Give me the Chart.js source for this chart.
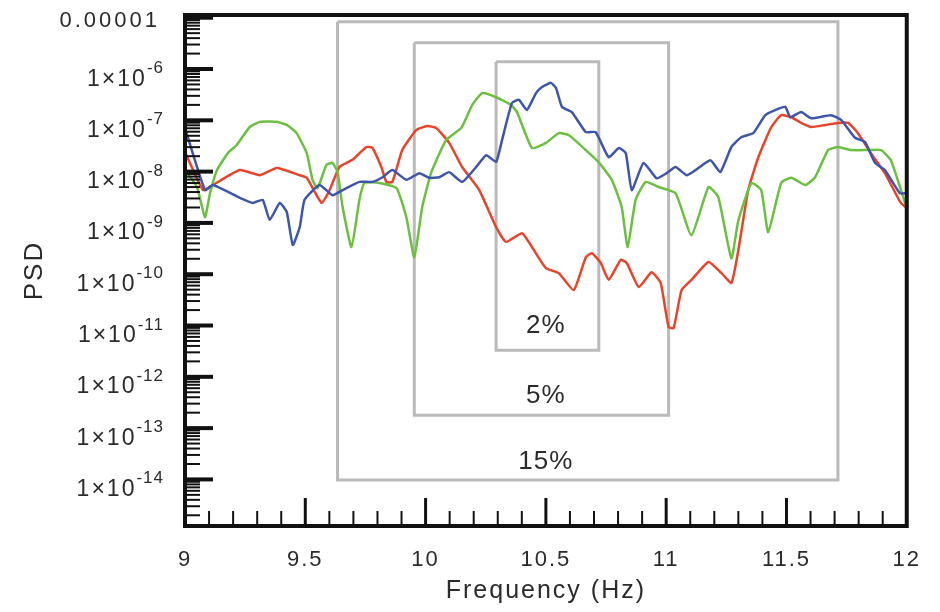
<!DOCTYPE html>
<html>
<head>
<meta charset="utf-8">
<script src="https://cdn.jsdelivr.net/npm/chart.js@4.4.0/dist/chart.umd.min.js"></script>
<style>
html, body { margin: 0; padding: 0; background: #fff; }
#wrap { width: 940px; height: 612px; }
</style>
</head>
<body>
<div id="wrap"><canvas id="graficoPSD" width="940" height="612"></canvas></div>
<script>
// > Values: frequency (Hz) and log10(PSD) for each curve

var blueFreq = [9.000, 9.083, 9.116, 9.228, 9.282, 9.323, 9.352, 9.394, 9.423, 9.448, 9.477, 9.497, 9.559, 9.613, 9.655, 9.725, 9.779, 9.821, 9.862, 9.920, 9.974, 10.015, 10.057, 10.098, 10.152, 10.210, 10.252, 10.293, 10.318, 10.359, 10.388, 10.421, 10.459, 10.484, 10.521, 10.542, 10.567, 10.608, 10.666, 10.707, 10.761, 10.803, 10.832, 10.857, 10.906, 10.960, 11.002, 11.039, 11.085, 11.122, 11.184, 11.225, 11.271, 11.312, 11.362, 11.412, 11.453, 11.495, 11.516, 11.561, 11.603, 11.685, 11.727, 11.785, 11.826, 11.868, 11.909, 11.971, 12.000];
var bluePsd = [-7.15, -8.36, -8.26, -8.51, -8.61, -8.55, -8.94, -8.61, -8.79, -9.43, -9.08, -8.55, -8.26, -8.46, -8.36, -8.20, -8.20, -8.11, -7.97, -8.16, -8.03, -8.12, -8.11, -8.01, -8.20, -7.91, -7.68, -7.81, -7.38, -6.66, -6.60, -6.80, -6.47, -6.35, -6.27, -6.37, -6.74, -6.84, -7.23, -7.23, -7.72, -7.54, -7.64, -8.36, -7.83, -8.13, -8.03, -7.91, -8.07, -7.97, -7.78, -8.01, -7.52, -7.33, -7.25, -6.90, -6.80, -6.74, -6.94, -6.84, -6.96, -6.90, -6.99, -7.34, -7.42, -7.83, -7.97, -8.42, -8.42];

var redFreq = [9.000, 9.075, 9.116, 9.228, 9.311, 9.381, 9.477, 9.506, 9.568, 9.601, 9.642, 9.696, 9.754, 9.779, 9.816, 9.837, 9.862, 9.903, 9.961, 10.007, 10.044, 10.098, 10.152, 10.223, 10.293, 10.334, 10.401, 10.442, 10.500, 10.554, 10.616, 10.666, 10.691, 10.728, 10.761, 10.811, 10.836, 10.886, 10.939, 10.977, 11.010, 11.031, 11.064, 11.105, 11.176, 11.230, 11.271, 11.300, 11.341, 11.383, 11.437, 11.478, 11.520, 11.561, 11.603, 11.661, 11.714, 11.756, 11.797, 11.851, 11.909, 11.975, 12.000];
var redPsd = [-7.62, -8.36, -8.26, -7.97, -8.07, -7.93, -8.07, -8.12, -8.61, -8.36, -7.91, -7.77, -7.52, -7.54, -7.91, -8.20, -8.20, -7.58, -7.19, -7.11, -7.15, -7.44, -7.91, -8.36, -9.08, -9.37, -9.20, -9.47, -9.88, -9.98, -10.31, -9.67, -9.59, -9.78, -10.11, -9.72, -9.78, -10.25, -9.96, -10.17, -11.03, -11.05, -10.31, -10.11, -9.76, -9.98, -10.17, -9.53, -8.36, -7.72, -7.13, -6.90, -6.94, -7.05, -7.13, -7.09, -7.05, -7.05, -7.25, -7.64, -8.03, -8.61, -8.71];

var greenFreq = [9.000, 9.050, 9.083, 9.104, 9.133, 9.178, 9.215, 9.269, 9.311, 9.381, 9.423, 9.464, 9.506, 9.530, 9.551, 9.588, 9.613, 9.634, 9.655, 9.692, 9.725, 9.746, 9.808, 9.879, 9.920, 9.953, 9.986, 10.024, 10.086, 10.148, 10.194, 10.235, 10.293, 10.355, 10.380, 10.442, 10.500, 10.554, 10.596, 10.666, 10.720, 10.774, 10.815, 10.840, 10.873, 10.915, 10.969, 11.039, 11.105, 11.176, 11.217, 11.271, 11.300, 11.354, 11.395, 11.424, 11.478, 11.520, 11.578, 11.619, 11.673, 11.714, 11.768, 11.839, 11.893, 11.934, 12.000];
var greenPsd = [-7.97, -8.30, -8.89, -8.42, -7.97, -7.64, -7.48, -7.13, -7.03, -7.03, -7.09, -7.25, -7.64, -8.16, -8.32, -7.87, -7.83, -8.01, -8.69, -9.47, -8.55, -8.22, -8.22, -8.32, -8.89, -9.67, -8.69, -8.01, -7.38, -7.15, -6.70, -6.47, -6.55, -6.70, -6.84, -7.54, -7.44, -7.25, -7.29, -7.58, -7.82, -8.16, -8.69, -9.47, -8.55, -8.20, -8.30, -8.42, -9.24, -8.30, -8.50, -9.69, -8.95, -8.22, -8.36, -9.18, -8.22, -8.12, -8.26, -8.11, -7.58, -7.52, -7.58, -7.58, -7.58, -7.78, -8.71];

// * Grey windows (15%, 5%, 2%), bounds in Hz and log10(PSD)
var boxNames = ["15%", "5%", "2%"];
var boxFreqStart = [9.634, 9.953, 10.293];
var boxFreqEnd = [11.714, 11.010, 10.720];
var boxPsdTop = [-5.08, -5.49, -5.86];
var boxPsdBottom = [-14.01, -12.75, -11.48];
var boxLabelFreq = [10.50, 10.50, 10.50];
var boxLabelPsd = [-13.66, -12.37, -11.01];

// : axis ticks
var xTicks = [9, 9.5, 10, 10.5, 11, 11.5, 12];
var yTickExps = [-5, -6, -7, -8, -9, -10, -11, -12, -13, -14];

var textColor = "#2b2b2b";

function toPoints(freq, psd) {
    var out = [];
    for (var i = 0; i < freq.length; i++) {
        out.push({ x: freq[i], y: Math.pow(10, psd[i]) });
    }
    return out;
}

var datasets = [
    { data: toPoints(redFreq, redPsd), borderColor: "#e8442c", borderWidth: 2.5, pointRadius: 0, tension: 0.15, order: 3 },
    { data: toPoints(greenFreq, greenPsd), borderColor: "#6cbf40", borderWidth: 2.5, pointRadius: 0, tension: 0.15, order: 2 },
    { data: toPoints(blueFreq, bluePsd), borderColor: "#3d56aa", borderWidth: 2.5, pointRadius: 0, tension: 0.15, order: 1 }
];

// ! a tiny tension keeps Chart.js off its fast path, which drops the vertical sides
for (var b = 0; b < boxNames.length; b++) {
    var boxTop = Math.pow(10, boxPsdTop[b]);
    var boxBot = Math.pow(10, boxPsdBottom[b]);
    datasets.push({
        data: [
            { x: boxFreqStart[b], y: boxTop }, { x: boxFreqEnd[b], y: boxTop },
            { x: boxFreqEnd[b], y: boxBot }, { x: boxFreqStart[b], y: boxBot },
            { x: boxFreqStart[b], y: boxTop }
        ],
        borderColor: "#bababa", borderWidth: 3, pointRadius: 0, tension: 0.000001,
        borderJoinStyle: "miter", order: 10
    });
}

// > frame, inward ticks, y labels with exponents and box labels
var framePlugin = {
    id: "frame",
    beforeDraw: function (chart) {
        chart.ctx.letterSpacing = "2px";
    },
    afterDatasetsDraw: function (chart) {
        var ctx = chart.ctx;
        var a = chart.chartArea;
        var sx = chart.scales.x;
        var sy = chart.scales.y;
        ctx.save();
        ctx.strokeStyle = "#111";
        ctx.lineCap = "butt";

        // x ticks, minor every 0.1 and major every 0.5
        for (var i = 1; i < 30; i++) {
            var px = sx.getPixelForValue(9 + i * 0.1);
            var major = (i % 5 == 0);
            ctx.lineWidth = major ? 3 : 2;
            ctx.beginPath();
            ctx.moveTo(px, a.bottom);
            ctx.lineTo(px, a.bottom - (major ? 28 : 15));
            ctx.stroke();
        }

        // y ticks, one per decade plus 2..9
        for (var k = -15; k <= -5; k++) {
            for (var m = 1; m <= 9; m++) {
                var v = m * Math.pow(10, k);
                if (v < sy.min || v > sy.max) continue;
                var py = sy.getPixelForValue(v);
                ctx.lineWidth = (m == 1) ? 4 : 2;
                ctx.beginPath();
                ctx.moveTo(a.left, py);
                ctx.lineTo(a.left + (m == 1 ? 28 : 15), py);
                ctx.stroke();
            }
        }

        ctx.lineWidth = 4;
        ctx.strokeRect(a.left, a.top, a.right - a.left, a.bottom - a.top);

        // y labels
        ctx.fillStyle = textColor;
        ctx.textAlign = "right";
        for (var t = 0; t < yTickExps.length; t++) {
            var e = yTickExps[t];
            var y = sy.getPixelForValue(Math.pow(10, e));
            if (e == -5) {
                ctx.font = '22px "Liberation Sans"';
                ctx.letterSpacing = "3px";
                ctx.textBaseline = "middle";
                ctx.fillText("0.00001", 160, y + 3);
                continue;
            }
            ctx.textBaseline = "alphabetic";
            ctx.letterSpacing = "1px";
            ctx.font = '17px "Liberation Sans"';
            var sup = String(e);
            var w = ctx.measureText(sup).width;
            ctx.fillText(sup, 164, y + 4);
            ctx.font = '23px "Liberation Sans"';
            ctx.letterSpacing = "2px";
            ctx.fillText("1\u00d710", 164 - w, y + 16.5);
        }

        // box labels
        ctx.font = '26px "Liberation Sans"';
        ctx.letterSpacing = "1px";
        ctx.textAlign = "center";
        ctx.textBaseline = "middle";
        for (var n = 0; n < boxNames.length; n++) {
            ctx.fillText(boxNames[n], sx.getPixelForValue(boxLabelFreq[n]), sy.getPixelForValue(Math.pow(10, boxLabelPsd[n])));
        }
        ctx.restore();
    }
};

var ctx = document.getElementById("graficoPSD").getContext("2d");
var myChart = new Chart(ctx, {
    type: "line",
    data: { datasets: datasets },
    plugins: [framePlugin],
    options: {
        responsive: false,
        animation: false,
        events: [],
        layout: { padding: { top: 15, right: 32, left: 0, bottom: 0 } },
        plugins: { legend: { display: false }, tooltip: { enabled: false } },
        scales: {
            x: {
                type: "linear",
                min: 9,
                max: 12,
                afterBuildTicks: function (s) {
                    s.ticks = xTicks.map(function (v) { return { value: v }; });
                },
                afterFit: function (s) { s.height = 86; },
                ticks: {
                    font: { family: "Liberation Sans", size: 22 },
                    color: textColor,
                    padding: 21,
                    maxRotation: 0,
                    autoSkip: false,
                    callback: function (v) { return String(v); }
                },
                grid: { display: false, drawTicks: false },
                border: { display: false },
                title: {
                    display: true,
                    text: "Frequency (Hz)",
                    color: textColor,
                    font: { family: "Liberation Sans", size: 25 },
                    padding: { top: 0, bottom: 6 }
                }
            },
            y: {
                type: "logarithmic",
                min: 1.236e-15,
                max: 1.13e-5,
                afterFit: function (s) { s.width = 185; },
                ticks: { display: false },
                grid: { display: false, drawTicks: false },
                border: { display: false },
                title: {
                    display: true,
                    text: "PSD",
                    color: textColor,
                    font: { family: "Liberation Sans", size: 26 },
                    padding: { top: 19, bottom: 0 }
                }
            }
        }
    }
});
</script>
</body>
</html>
